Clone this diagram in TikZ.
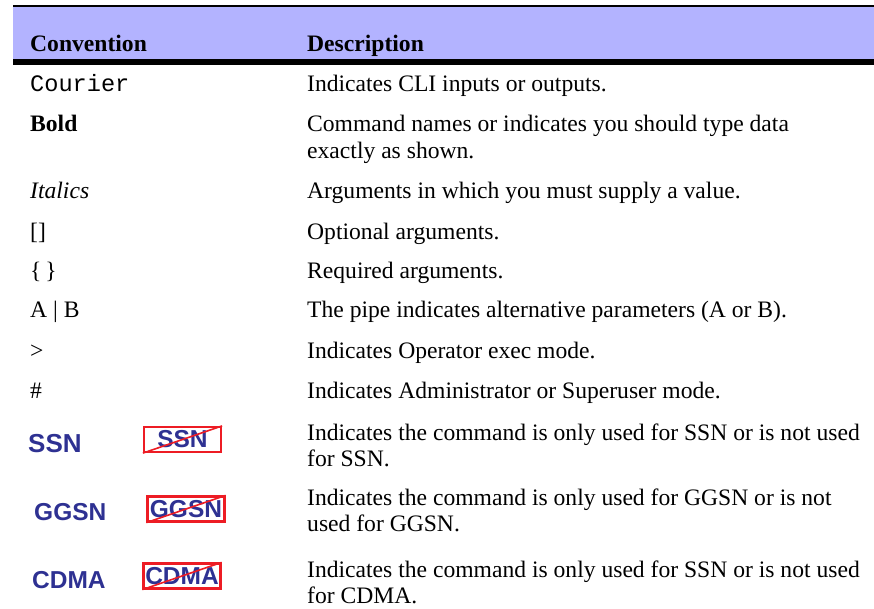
\documentclass[tikz,border=0pt]{standalone}
\usepackage{fontspec}
\setmainfont{Liberation Serif}
\setsansfont{Liberation Sans}
\setmonofont{Liberation Mono}
\usepackage{tikz}
\usetikzlibrary{calc, positioning}

\definecolor{headblue}{RGB}{179,179,255}
\definecolor{logoblue}{RGB}{46,49,146}
\definecolor{logored}{RGB}{237,28,36}
\newcommand{\tabfont}{\fontsize{23.6}{26}\selectfont}

\begin{document}
\begin{tikzpicture}[x=1pt, y=-1pt,
  conv/.style={anchor=base west, inner sep=0pt, font=\tabfont},
  desc/.style={anchor=base west, inner sep=0pt, align=left, font=\tabfont},
  logo/.style={anchor=base west, inner sep=0pt, text=logoblue, font=\fontsize{24.5}{26}\selectfont\sffamily\bfseries},
  nologo/.style={logo, anchor=center, draw=logored, line width=2.2pt, minimum width=77pt, minimum height=25pt}]
  \useasboundingbox (0,0) rectangle (874,609);

  % header band
  \fill[headblue] (13,6) rectangle (874,59);
  \draw[line width=2pt] (13,6) -- (874,6);
  \fill[black] (13,59) rectangle (874,65);
  \node[conv, font=\tabfont\bfseries] (hdconv) at (30,52) {Convention};
  \node[desc, font=\tabfont\bfseries] (hddesc) at (307,52) {Description};

  \node[conv, font=\tabfont\ttfamily] (cvcourier) at (30,92) {Courier};
  \node[desc] (dscourier) at (307,92) {Indicates CLI inputs or outputs.};

  % two-line texts sit on the baseline of their last line
  \node[conv, font=\tabfont\bfseries] (cvbold) at (30,132) {Bold};
  \node[desc, font=\fontsize{23.6}{27}\selectfont] (dsbold) at (307,159) {Command names or indicates you should type data\\exactly as shown.};

  \node[conv, font=\tabfont\itshape] (cvital) at (30,199) {Italics};
  \node[desc] (dsital) at (307,199) {Arguments in which you must supply a value.};

  \node[conv] (cvopt) at (30,240) {[]};
  \node[desc] (dsopt) at (307,240) {Optional arguments.};

  \node[conv] (cvreq) at (30,278) {\{\,\}};
  \node[desc] (dsreq) at (307,278) {Required arguments.};

  \node[conv] (cvpipe) at (30,317) {A | B};
  \node[desc] (dspipe) at (307,317) {The pipe indicates alternative parameters (A or B).};

  \node[conv] (cvoper) at (30,358) {>};
  \node[desc] (dsoper) at (307,358) {Indicates Operator exec mode.};

  \node[conv] (cvadmin) at (30,398) {\#};
  \node[desc] (dsadmin) at (307,398) {Indicates Administrator or Superuser mode.};

  % product marks
  \node[logo, font=\fontsize{26}{26}\selectfont\sffamily\bfseries] (cvssn) at (28,452) {SSN};
  \node[nologo] (cvnossn) at (182.5,439.5) {SSN};
  \draw[logored, line width=1.6pt] (cvnossn.south west) -- (cvnossn.north east);
  \node[desc] (dsssn) at (307,466) {Indicates the command is only used for SSN or is not used\\for SSN.};

  \node[logo] (cvggsn) at (34,520) {GGSN};
  \node[nologo] (cvnoggsn) at (186,509) {GGSN};
  \draw[logored, line width=1.6pt] (cvnoggsn.south west) -- (cvnoggsn.north east);
  \node[desc] (dsggsn) at (307,531) {Indicates the command is only used for GGSN or is not\\used for GGSN.};

  \node[logo] (cvcdma) at (32,588) {CDMA};
  \node[nologo] (cvnocdma) at (182,576) {CDMA};
  \draw[logored, line width=1.6pt] (cvnocdma.south west) -- (cvnocdma.north east);
  \node[desc] (dscdma) at (307,603) {Indicates the command is only used for SSN or is not used\\for CDMA.};
\end{tikzpicture}
\end{document}
